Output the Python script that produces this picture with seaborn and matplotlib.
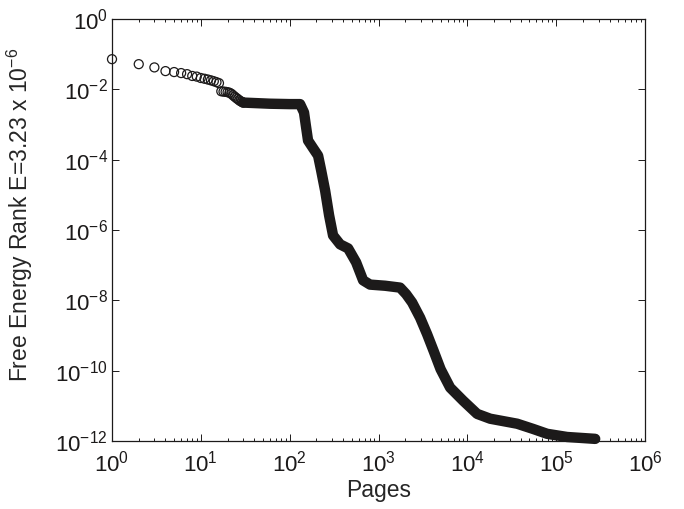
import numpy as np
import pandas as pd
import matplotlib
matplotlib.use('Agg')
import matplotlib.pyplot as plt
import seaborn as sns
from matplotlib.ticker import LogLocator, NullLocator

# --- DATA ---
# first pages: each one still shows as its own circle
head_rank = list(range(1, 31))
head_energy = [0.072, 0.052, 0.042, 0.033, 0.031, 0.029, 0.027, 0.024, 0.023, 0.021,
               0.020, 0.019, 0.018, 0.017, 0.016, 0.015, 0.0088, 0.0086, 0.0085, 0.0083,
               0.0080, 0.0075, 0.0068, 0.0062, 0.0057, 0.0053, 0.0049, 0.0046, 0.0044, 0.0042]

# the rest: circles overlap into one dark band, traced along its centre
tail_rank = [30, 60, 100, 131, 145, 152, 161, 184, 209, 226, 251, 278, 308, 370, 455,
             560, 671, 804, 1187, 1750, 2046, 2390, 2940, 3520, 4200, 5000, 6400, 8970,
             12900, 18100, 36400, 55100, 79200, 133000, 275000]
tail_energy = [0.0042, 0.0039, 0.0038, 0.0038, 2.2e-3, 9.5e-4, 3.5e-4, 2.1e-4, 1.3e-4,
               5.0e-5, 1.3e-5, 2.6e-6, 7.0e-7, 3.9e-7, 3.0e-7, 1.2e-7, 3.7e-8, 2.8e-8,
               2.6e-8, 2.3e-8, 1.5e-8, 8.7e-9, 3.2e-9, 1.1e-9, 3.5e-10, 1.1e-10, 3.3e-11,
               1.4e-11, 5.9e-12, 4.3e-12, 3.1e-12, 2.2e-12, 1.6e-12, 1.3e-12, 1.15e-12]

ink = '#1c1a1a'

sns.set_style('ticks')
plt.rcParams['font.family'] = ['Liberation Sans', 'DejaVu Sans']
plt.rcParams['mathtext.default'] = 'regular'
plt.rcParams['font.size'] = 16

fig = plt.figure(figsize=(6.84, 5.09), dpi=100)
ax = fig.add_axes([112 / 684, 1 - 441 / 509, 533 / 684, 422 / 509])

df_tail = pd.DataFrame({'rank': tail_rank, 'energy': tail_energy})
df_head = pd.DataFrame({'rank': head_rank, 'energy': head_energy})

# dense part as a thick band
sns.lineplot(data=df_tail, x='rank', y='energy', ax=ax, color=ink, linewidth=7.5,
             estimator=None, sort=False, solid_capstyle='round', solid_joinstyle='round',
             clip_on=False)

# sparse head as open circles
sns.scatterplot(data=df_head, x='rank', y='energy', ax=ax, color=ink, s=42,
                marker='o', linewidth=0.9, clip_on=False, zorder=3)
pts = ax.collections[-1]
pts.set_facecolor('none')
pts.set_edgecolor(ink)

ax.set_xscale('log')
ax.set_yscale('log')
ax.set_xlim(1, 1e6)
ax.set_ylim(1e-12, 1)
ax.set_yticks([10.0 ** -k for k in range(0, 13, 2)])
ax.yaxis.set_minor_locator(NullLocator())
ax.xaxis.set_major_locator(LogLocator(base=10, numticks=10))
ax.xaxis.set_minor_locator(LogLocator(base=10, subs=np.arange(2, 10), numticks=20))

ax.tick_params(which='both', direction='in', top=True, right=True, colors=ink,
               width=0.7, labelsize=16)
ax.tick_params(which='major', length=5)
ax.tick_params(which='minor', length=2.5)
ax.tick_params(axis='x', which='major', pad=7)
ax.tick_params(axis='y', which='major', pad=3)
for s in ax.spines.values():
    s.set_linewidth(0.9)
    s.set_color(ink)

ax.set_xlabel('Pages', fontsize=16.5, labelpad=2)
ax.set_ylabel('Free Energy Rank E=3.23 x 10$^{-6}$', fontsize=16.5)
ax.yaxis.set_label_coords(-0.144, 0.535)

plt.savefig('out.png', dpi=100)
